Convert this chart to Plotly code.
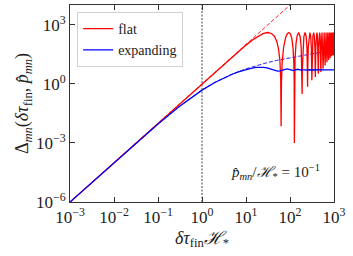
import plotly.graph_objects as go

# ---------------- data ----------------
flat_x = [0.001, 0.01, 0.1, 1, 3, 6, 10, 15, 20, 25, 31.4, 38, 44, 50, 55, 59, 61.5, 62.8, 64, 66.5,
          72, 80, 87, 94.2, 102, 110, 117, 122, 124.5, 125.7, 127, 130, 137, 145, 157, 170, 180, 186,
          188.5, 191, 197, 207, 220, 233, 243, 248, 251, 254, 260, 270, 283, 296, 306, 314, 322, 332,
          345, 358, 368, 377, 386, 396, 408, 421, 431, 440, 449, 459, 471, 484, 494, 503, 512, 522,
          534, 565, 597, 628, 660, 691, 722, 754, 785, 817, 848, 880, 911, 942, 974, 1000]
flat_y = [1e-6, 1e-4, 0.01, 1, 9, 34.9, 91.9, 185.8, 283.2, 360.3, 400, 358.2, 261.5, 143.3, 58.3, 14.5, 1.77, 0.007, 1.36, 13.3,
          78.3, 229, 349.6, 400, 342.9, 199, 68.1, 13.3, 1.35, 0.001, 1.79, 18.5, 109.6, 270.8, 400, 255, 67.9, 6.2,
          0.3, 6.3, 68.9, 257, 400, 248, 68, 11, 0.7, 7.1, 70.6, 258, 400, 253.6, 62.9, 1.5, 57.6, 255,
          400, 252, 66.8, 2.2, 71.7, 262, 400, 255, 68, 3.2, 70, 258, 400, 255, 68, 4.0, 70, 258,
          400, 5.8, 400, 8.5, 400, 12.6, 400, 16, 400, 20, 400, 25, 400, 28, 400, 27.5]

flat_ref_x = [0.001, 1000]
flat_ref_y = [1e-6, 1e6]

exp_x = [0.001, 0.01, 0.1, 0.3, 1, 2, 3, 5, 7, 10, 13, 17, 21, 25, 30, 35, 40, 45, 52, 60, 70, 78, 85,
         95, 105, 115, 130, 148, 163, 178, 195, 211, 226, 241, 257, 274, 290, 303, 320, 336, 351, 366,
         383, 399, 430, 462, 600, 1000]
exp_y = [1e-6, 9.9e-5, 0.00907, 0.0687, 0.479, 1.20, 1.91, 3.15, 4.16, 5.33, 6.13, 6.76, 6.94, 6.82, 6.36,
         5.74, 5.16, 4.69, 4.39, 4.55, 5.16, 5.55, 5.68, 5.45, 5.05, 4.79, 5.0, 5.45, 5.2, 4.90, 5.15, 5.36,
         5.15, 4.96, 5.12, 5.31, 5.15, 5.00, 5.14, 5.28, 5.15, 5.03, 5.15, 5.26, 5.04, 5.25, 5.15, 5.15]

exp_ref_x = [0.001, 0.01, 0.1, 0.3, 1, 2, 3, 5, 10, 20, 30, 50, 100, 200, 300, 500, 1000]
exp_ref_y = [1e-6, 9.9e-5, 0.00908, 0.0688, 0.480, 1.207, 1.92, 3.21, 5.75, 9.27, 11.8, 15.46, 21.3, 28.1, 32.6, 38.6, 47.7]

x_ticks = [1e-3, 1e-2, 1e-1, 1, 1e1, 1e2, 1e3]
x_ticktext = ["10<sup>−3</sup>", "10<sup>−2</sup>", "10<sup>−1</sup>", "10<sup>0</sup>",
              "10<sup>1</sup>", "10<sup>2</sup>", "10<sup>3</sup>"]
y_ticks = [1e-6, 1e-3, 1, 1e3]
y_ticktext = ["10<sup>−6</sup>", "10<sup>−3</sup>", "10<sup>0</sup>", "10<sup>3</sup>"]

ref_x = 1  # vertical dotted line at δτ H = 1

FONT = "Liberation Serif"
RED = "#ff0000"
BLUE = "#0000ff"

fig = go.Figure()
fig.add_trace(go.Scatter(x=flat_ref_x, y=flat_ref_y, mode="lines", showlegend=False,
                         line=dict(color=RED, width=1, dash="4px,2px"), opacity=0.85))
fig.add_trace(go.Scatter(x=exp_ref_x, y=exp_ref_y, mode="lines", showlegend=False,
                         line=dict(color=BLUE, width=1, dash="4px,2px"), opacity=0.85))
fig.add_trace(go.Scatter(x=flat_x, y=flat_y, mode="lines", name="flat",
                         line=dict(color=RED, width=1.3)))
fig.add_trace(go.Scatter(x=exp_x, y=exp_y, mode="lines", name="expanding",
                         line=dict(color=BLUE, width=1.3)))

fig.add_shape(type="line", x0=ref_x, x1=ref_x, y0=0, y1=1, xref="x", yref="paper",
              line=dict(color="#444", width=1, dash="2px,1.5px"))

axis_common = dict(type="log", showgrid=False, zeroline=False, showline=True, linecolor="#333",
                   linewidth=1, mirror="allticks", ticks="inside", ticklen=5, tickwidth=1,
                   tickcolor="#333", tickfont=dict(family=FONT, size=17, color="#222"))

fig.update_xaxes(range=[-3, 3], tickvals=x_ticks, ticktext=x_ticktext,
                 title=dict(text="<i>δτ</i><sub>fin</sub><i>ℋ</i><sub>*</sub>",
                            font=dict(family=FONT, size=18, color="#222"), standoff=4),
                 **axis_common)
fig.update_yaxes(range=[-6, 4], tickvals=y_ticks, ticktext=y_ticktext,
                 title=dict(text="Δ<sub><i>mn</i></sub>(<i>δτ</i><sub>fin</sub>, <i>p̂</i><sub><i>mn</i></sub>)",
                            font=dict(family=FONT, size=18, color="#222"), standoff=2),
                 **axis_common)

fig.add_annotation(x=0.955, y=0.152, xref="paper", yref="paper", xanchor="right", yanchor="middle",
                   showarrow=False,
                   text="<i>p̂</i><sub><i>mn</i></sub>/<i>ℋ</i><sub>*</sub> = 10<sup>−1</sup>",
                   font=dict(family=FONT, size=15, color="#222"))

fig.update_layout(
    width=353, height=256,
    margin=dict(l=70, r=19, t=5, b=54),
    paper_bgcolor="white", plot_bgcolor="white",
    legend=dict(x=0.027, y=0.964, xanchor="left", yanchor="top",
                bgcolor="rgba(255,255,255,0.85)", bordercolor="#d0d0d0", borderwidth=1,
                font=dict(family=FONT, size=14, color="#222"), itemwidth=30,
                tracegroupgap=0),
)

fig.write_html("out.html", config={"displayModeBar": False},
               post_script="document.body.style.margin='0px';")
